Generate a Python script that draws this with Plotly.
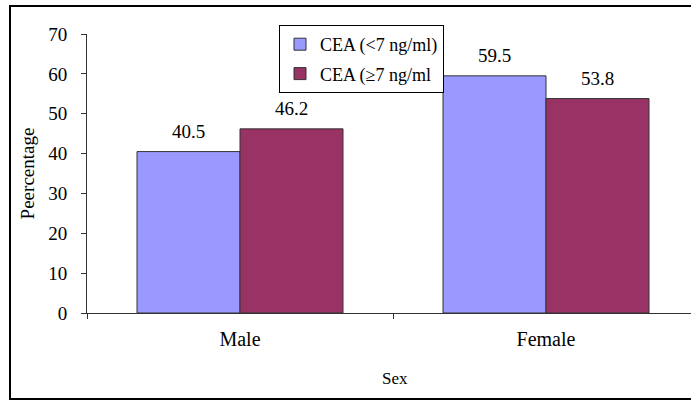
import plotly.graph_objects as go

# CEA level distribution by sex (percentages)
categories = ["Male", "Female"]
series_names = ["CEA (&lt;7 ng/ml)", "CEA (≥7 ng/ml"]
low_cea = [40.5, 59.5]
high_cea = [46.2, 53.8]
y_ticks = [0, 10, 20, 30, 40, 50, 60, 70]

FONT = "Liberation Serif"
W, H = 691, 401
L, R, T, B = 87, 0, 34, 88
plot_w = W - L - R
plot_h = H - T - B
cat_px = 306   # pixel width of one category slot
bar_px = 103   # pixel width of one bar

fig = go.Figure()
series = [
    (series_names[0], low_cea, "#9999FF", -bar_px / 2),
    (series_names[1], high_cea, "#993366", bar_px / 2),
]
for i, (name, vals, color, shift) in enumerate(series):
    fig.add_trace(go.Bar(
        x=categories, y=vals, name=name, legendgroup=f"g{i}",
        marker=dict(color=color, line=dict(color="#333333", width=1)),
    ))
    # value labels above each bar
    for cat, v in zip(categories, vals):
        fig.add_annotation(
            x=cat, y=v, xref="x", yref="y", text=f"{v:.1f}",
            showarrow=False, xshift=shift, yshift=20, yanchor="middle",
            font=dict(family=FONT, size=19, color="black"),
        )

def px_x(px):
    return (px - L) / plot_w

def px_y(py):
    return (H - B - py) / plot_h

# x-axis title as a centred label below the categories
fig.add_annotation(
    x=px_x(395), y=px_y(378), xref="paper", yref="paper", text="Sex",
    showarrow=False, xanchor="center", yanchor="middle",
    font=dict(family=FONT, size=17, color="black"),
)

fig.update_layout(
    width=W, height=H,
    margin=dict(l=L, r=R, t=T, b=B, pad=0),
    paper_bgcolor="white", plot_bgcolor="white",
    barmode="group", bargap=1 - 2 * bar_px / cat_px, bargroupgap=0,
    font=dict(family=FONT, color="black"),
    legend=dict(
        x=px_x(279), y=px_y(25), xanchor="left", yanchor="top",
        bgcolor="white", bordercolor="black", borderwidth=1,
        font=dict(family=FONT, size=18, color="black"),
        tracegroupgap=3, itemwidth=30,
    ),
    showlegend=True,
    xaxis=dict(
        range=[-0.5, -0.5 + plot_w / cat_px],
        showline=True, linecolor="#333333", linewidth=1,
        ticks="outside", ticklen=5, tickcolor="#333333",
        tickson="boundaries", showgrid=False,
        ticklabelstandoff=8,
        tickfont=dict(family=FONT, size=20, color="black"),
    ),
    yaxis=dict(
        range=[0, 70], tickvals=y_ticks,
        showline=True, linecolor="#333333", linewidth=1,
        ticks="outside", ticklen=5, tickcolor="#333333",
        showgrid=False, zeroline=False,
        ticklabelstandoff=10,
        tickfont=dict(family=FONT, size=19, color="black"),
        title=dict(text="Peercentage", font=dict(family=FONT, size=19, color="black"), standoff=8),
    ),
)

# outer frame around the whole chart
fig.add_shape(
    type="rect", xref="paper", yref="paper",
    x0=px_x(10), x1=px_x(720), y0=px_y(399), y1=px_y(6),
    line=dict(color="black", width=2), fillcolor="rgba(0,0,0,0)", layer="below",
)

fig.write_html("out.html")
